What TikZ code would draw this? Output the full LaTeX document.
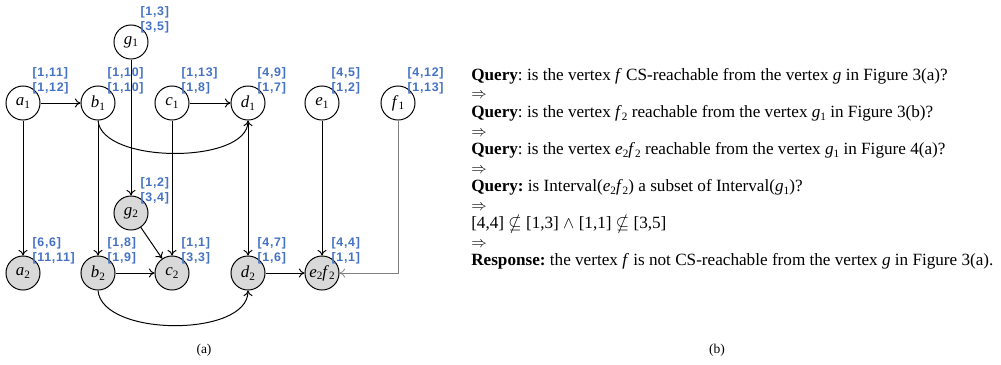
\documentclass[tikz,border=0pt]{standalone}
\usepackage{amssymb}
\usepackage{fontspec}
\setmainfont{Liberation Serif}
\newfontfamily\lblfont[LetterSpace=6]{Liberation Sans}
\usetikzlibrary{arrows.meta}
\definecolor{lblblue}{RGB}{68,114,196}
\definecolor{nodegray}{RGB}{217,217,217}
\newcommand{\vx}[2]{\textit{#1}\raisebox{-0.35ex}{\fontsize{8}{8}\selectfont #2}}
\newcommand{\imp}{{\fontsize{11}{11}\selectfont$\Rightarrow$}}
\tikzset{>={To[length=4pt,width=6.5pt]}}
\tikzset{v/.style = {circle, draw, line width=0.7pt, minimum size=24.2pt, inner sep=0pt,
                     font=\fontsize{12}{12}\selectfont}}
\tikzset{vf/.style = {v, fill=nodegray}}
\tikzset{lbl/.style = {text=lblblue, font=\lblfont\bfseries\fontsize{8.8}{10.5}\selectfont,
                       align=left, inner sep=0pt, xshift=-2.2pt, yshift=-2.8pt}}
\tikzset{iv/.style 2 args = {label={[lbl, label distance=0pt]45:{#1\\{}#2}}}}
\tikzset{edge/.style = {->, line width=0.7pt}}

\begin{document}
\frenchspacing
\begin{tikzpicture}[x=0.025cm, y=-0.025cm]
      \useasboundingbox (0, 0) rectangle (1001, 364);

      % upper row
      \node [v, iv={[1,3]}{[3,5]}] (g1) at (131, 42) {\vx{g}{1}};
      \node [v, iv={[1,11]}{[1,12]}] (a1) at (23, 103) {\vx{a}{1}};
      \node [v, iv={[1,10]}{[1,10]}] (b1) at (98, 103) {\vx{b}{1}};
      \node [v, iv={[1,13]}{[1,8]}] (c1) at (172, 103) {\vx{c}{1}};
      \node [v, iv={[4,9]}{[1,7]}] (d1) at (248, 103) {\vx{d}{1}};
      \node [v, iv={[4,5]}{[1,2]}] (e1) at (322, 103) {\vx{e}{1}};
      \node [v, iv={[4,12]}{[1,13]}] (f1) at (398, 103) {\vx{f}{1}};

      % lower row
      \node [vf, iv={[1,2]}{[3,4]}] (g2) at (131, 213) {\vx{g}{2}};
      \node [vf, iv={[6,6]}{[11,11]}] (a2) at (23, 273) {\vx{a}{2}};
      \node [vf, iv={[1,8]}{[1,9]}] (b2) at (98, 273) {\vx{b}{2}};
      \node [vf, iv={[1,1]}{[3,3]}] (c2) at (172, 273) {\vx{c}{2}};
      \node [vf, iv={[4,7]}{[1,6]}] (d2) at (248, 273) {\vx{d}{2}};
      \node [vf, iv={[4,4]}{[1,1]}] (ef2) at (322, 273) {\vx{e}{2}\vx{f}{2}};

      \draw [edge] (a1) -- (b1);
      \draw [edge] (c1) -- (d1);
      \draw [edge] (a1) -- (a2);
      \draw [edge] (b1) -- (b2);
      \draw [edge] (g1) -- (g2);
      \draw [edge] (c1) -- (c2);
      \draw [edge] (d1) -- (d2);
      \draw [edge] (e1) -- (ef2);
      \draw [edge] (g2) -- (c2);
      \draw [edge] (b2) -- (c2);
      \draw [edge] (d2) -- (ef2);
      \draw [edge] (b1.south) to [out=-85, in=-90, looseness=0.75] (d1.south);
      \draw [edge] (b2.south) to [out=-85, in=-90, looseness=0.8] (d2.south);
      \draw [->, line width=0.5pt, gray] (f1) |- (ef2);

      \node [font=\fontsize{9.6}{9.6}\selectfont] (capa) at (204, 350) {(a)};

      \node [anchor=north west, align=left, inner sep=0pt, font=\fontsize{12.2}{13.2}\selectfont] (query) at (471, 68)
        {\textbf{Query}: is the vertex \textit{f} CS-reachable from the vertex \textit{g} in Figure 3(a)?\\
         \imp\\
         \textbf{Query}: is the vertex \vx{f}{2} reachable from the vertex \vx{g}{1} in Figure 3(b)?\\
         \imp\\
         \textbf{Query}: is the vertex \vx{e}{2}\vx{f}{2} reachable from the vertex \vx{g}{1} in Figure 4(a)?\\
         \imp\\
         \textbf{Query:} is Interval(\vx{e}{2}\vx{f}{2}) a subset of Interval(\vx{g}{1})?\\
         \imp\\
         {}[4,4] $\nsubseteq$ [1,3] $\wedge$ [1,1] $\nsubseteq$ [3,5]\\
         \imp\\
         \textbf{Response:} the vertex \textit{f} is not CS-reachable from the vertex \textit{g} in Figure 3(a).};

      \node [font=\fontsize{9.6}{9.6}\selectfont] (capb) at (717, 350) {(b)};
\end{tikzpicture}
\end{document}
